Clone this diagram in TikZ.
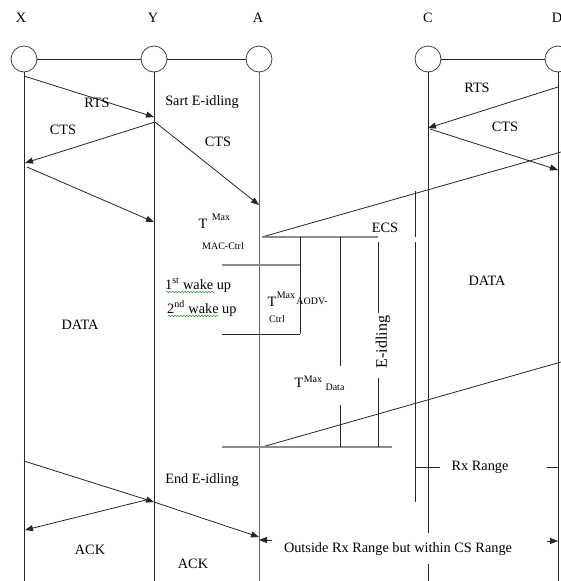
\documentclass[tikz,border=0pt]{standalone}
\usepackage{fontspec}
\setmainfont{Liberation Serif}
\usetikzlibrary{arrows.meta,decorations.pathmorphing}
\begin{document}
\begin{tikzpicture}[x=1pt,y=-1pt,
  ln/.style={draw=black!85, line width=0.8pt},
  gl/.style={draw=black!45, line width=1.4pt},
  arr/.style={ln, -{Triangle[length=8pt,width=6pt]}},
  txt/.style={font=\fontsize{14.3}{16}\selectfont, inner sep=0pt},
  big/.style={font=\fontsize{16}{18}\selectfont, inner sep=0pt},
  sm/.style={font=\fontsize{10}{12}\selectfont, inner sep=0pt},
  life/.style={circle, draw=black!75, line width=0.8pt, minimum size=26pt, inner sep=0pt},
  squig/.style={draw=green!55!black, line width=0.4pt, decorate, decoration={snake, amplitude=0.8pt, segment length=3pt}}
]
\useasboundingbox (0,0) rectangle (561,581);
\fill[white] (0,0) rectangle (561,581);

% labels
\node[txt] (lX) at (21,18) {X};
\node[txt] (lY) at (153,18) {Y};
\node[txt] (lA) at (258,18) {A};
\node[txt] (lC) at (428,18) {C};
\node[txt] (lD) at (557,18) {D};

% circles
\node[life] (cX) at (24,59) {};
\node[life] (cY) at (154,59) {};
\node[life] (cA) at (259,59) {};
\node[life] (cC) at (428,59) {};
\node[life] (cD) at (558,59) {};
\draw[ln] (cX) -- (cY) (cY) -- (cA) (cC) -- (cD);

% lifelines
\coordinate (bot) at (0,581);
\draw[ln] (cX.south) -- (cX.south |- bot);
\draw[ln] (cY.south) -- (cY.south |- bot);
\draw[ln, draw=black!60, line width=1pt] (cA.south) -- (cA.south |- bot);
\draw[ln] (cD.south) -- (cD.south |- bot);
\coordinate (cb1) at (428,533);
\coordinate (cb2) at (428,564);
\draw[ln] (cC.south) -- (cb1);
\draw[ln] (cb2) -- (cC.south |- bot);

% top arrows left
\coordinate (x1) at (24,76);  \coordinate (y1) at (154,117);
\draw[arr] (x1) -- (y1);
\coordinate (y2) at (155,122); \coordinate (x2) at (25,163);
\draw[arr] (y2) -- (x2);
\coordinate (a2) at (259,205);
\draw[arr] (y2) -- (a2);
\coordinate (x3) at (27,167); \coordinate (y3) at (154,222);
\draw[arr] (x3) -- (y3);

% top arrows right
\coordinate (d1) at (558,87); \coordinate (c1) at (428,128);
\draw[arr] (d1) -- (c1);
\coordinate (c2) at (430,129); \coordinate (d2) at (558,170);
\draw[arr] (c2) -- (d2);

% slanted lines
\coordinate (s1) at (262,237); \coordinate (s1e) at (561,152);
\draw[ln] (s1) -- (s1e);
\coordinate (s2) at (262,447); \coordinate (s2e) at (561,362);
\draw[ln] (s2) -- (s2e);

% horizontal timing lines
\coordinate (h1b) at (378,237);
\draw[gl] (s1) -- (h1b);
\coordinate (h2a) at (222,265); \coordinate (h2b) at (300,265);
\draw[gl] (h2a) -- (h2b);
\coordinate (h3a) at (222,334); \coordinate (h3b) at (300,334);
\draw[ln] (h3a) -- (h3b);
\coordinate (h4a) at (222,447); \coordinate (h4b) at (392,447);
\draw[gl] (h4a) -- (h4b);

% vertical timing lines
\coordinate (v1t) at (300,237);
\draw[ln] (v1t) -- (h3b);
\coordinate (v2t) at (340,237); \coordinate (v2m) at (340,366);
\coordinate (v2n) at (340,405); \coordinate (v2b) at (340,447);
\draw[ln] (v2t) -- (v2m) (v2n) -- (v2b);
\coordinate (v3t) at (378,242); \coordinate (v3m) at (378,313);
\coordinate (v3n) at (378,378); \coordinate (v3b) at (378,447);
\draw[ln] (v3t) -- (v3m) (v3n) -- (v3b);
\coordinate (v4t) at (415,191); \coordinate (v4m) at (415,237);
\coordinate (v4n) at (415,242); \coordinate (v4b) at (415,502);
\draw[ln] (v4t) -- (v4m) (v4n) -- (v4b);

% Rx range ticks
\coordinate (r1) at (415,467); \coordinate (r2) at (440,467);
\coordinate (r3) at (547,467); \coordinate (r4) at (558,467);
\draw[ln] (r1) -- (r2) (r3) -- (r4);

% outside range arrows
\coordinate (o1) at (272,540); \coordinate (o2) at (259,540);
\draw[arr] (o1) -- (o2);
\coordinate (o3) at (547,541); \coordinate (o4) at (558,541);
\draw[arr] (o3) -- (o4);

% bottom arrows
\coordinate (bx1) at (24,461); \coordinate (by1) at (154,502);
\coordinate (ba1) at (259,537);
\draw[arr] (bx1) -- (by1);
\draw[arr] (by1) -- (ba1);
\coordinate (by2) at (150,499); \coordinate (bx2) at (25,530);
\draw[arr] (by2) -- (bx2);

% texts
\node[txt] (tRTS1) at (97,103) {RTS};
\node[txt] (tCTS1) at (63,130) {CTS};
\node[txt] (tSart) at (202,102) {Sart E-idling};
\node[txt] (tCTS2) at (218,142) {CTS};
\node[txt] (tRTS2) at (477,88) {RTS};
\node[txt] (tCTS3) at (505,127) {CTS};

\node[txt] (tT1) at (203,224) {T};
\node[sm] (tMax1) at (221,217) {Max};
\node[sm] (tMac) at (223,246) {MAC-Ctrl};

\node[txt, anchor=base west] (tW1) at (165,289) {1\textsuperscript{st} wake up};
\node[txt, anchor=base west] (tW2) at (167,313) {2\textsuperscript{nd} wake up};
\draw[squig] (166,292) -- (215,292);
\draw[squig] (168,316) -- (218,316);

\node[txt] (tData1) at (80,325) {DATA};
\node[txt] (tData2) at (487,281) {DATA};

\node[txt] (tT2) at (272,302) {T};
\node[sm] (tMax2) at (286,295) {Max};
\node[sm] (tAodv) at (312,301) {AODV-};
\node[sm] (tCtrl) at (277,319) {Ctrl};

\node[txt] (tT3) at (299,383) {T};
\node[sm] (tMax3) at (313,379) {Max};
\node[sm] (tDat) at (335,387) {Data};

\node[txt] (tECS) at (385,228) {ECS};
\node[big, rotate=90] (tEid) at (383,342) {E-idling};

\node[txt] (tEnd) at (202,480) {End E-idling};
\node[txt] (tRx) at (480,467) {Rx Range};
\node[txt] (tAck1) at (90,550) {ACK};
\node[txt] (tAck2) at (193,564) {ACK};
\node[txt] (tOut) at (398,549) {Outside Rx Range but within CS Range};
\end{tikzpicture}
\end{document}
